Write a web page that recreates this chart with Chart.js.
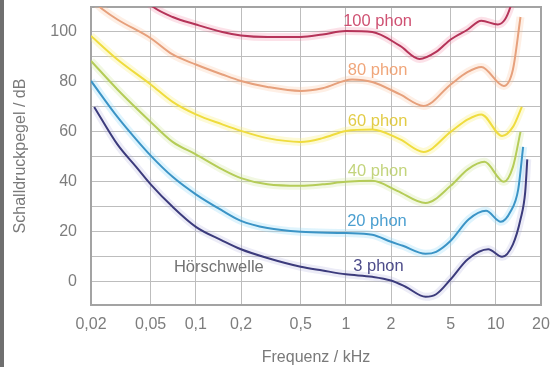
<!DOCTYPE html>
<html><head><meta charset="utf-8">
<script src="https://cdn.jsdelivr.net/npm/chart.js@4.4.1/dist/chart.umd.min.js"></script>
<style>
html,body{margin:0;padding:0;background:#fff;}
#wrap{position:relative;width:555px;height:367px;overflow:hidden;}
#strip{position:absolute;left:0;top:0;width:4px;height:367px;background:#6f6f6f;}
canvas{position:absolute;left:0;top:0;}
</style></head><body>
<div id="wrap"><canvas id="c" width="555" height="367"></canvas><div id="strip"></div></div>
<script>
// ---- tick labels ----
const xTickValues = [0.02, 0.05, 0.1, 0.2, 0.5, 1, 2, 5, 10, 20];
const xTickLabels = ['0,02', '0,05', '0,1', '0,2', '0,5', '1', '2', '5', '10', '20'];
const yGridValues = [0, 10, 20, 30, 40, 50, 60, 70, 80, 90, 100];
const yLabelValues = [0, 20, 40, 60, 80, 100];

// ---- curves (frequency kHz, sound pressure level dB) ----
const freq100 = [0.046, 0.052, 0.07, 0.1, 0.15, 0.2, 0.3, 0.5, 0.7, 1, 1.5, 2.3, 3.1, 4, 5, 6.5, 8, 10.3, 11.5, 12.5, 13];
const spl100  = [113, 110, 106, 103, 100, 98.6, 98, 98, 99, 100.4, 100, 94.4, 89.2, 92, 97, 101, 104.5, 103, 105, 110, 114];

const freq80 = [0.021, 0.024, 0.03, 0.05, 0.07, 0.1, 0.15, 0.2, 0.3, 0.5, 0.7, 1.1, 1.5, 2.3, 3.3, 5, 6.5, 8, 11.3, 13, 14.6];
const spl80  = [112, 109, 105, 97.5, 91, 87, 83, 80.4, 78, 76.4, 77.5, 81, 80, 75, 70.4, 79, 84, 86, 78.4, 85, 106];

const freq60 = [0.02, 0.03, 0.05, 0.07, 0.1, 0.15, 0.2, 0.3, 0.5, 0.7, 1, 1.5, 2.3, 3.3, 5, 6.5, 8, 11, 13, 14.9];
const spl60  = [98.4, 89, 79, 72, 67, 63, 60.4, 57.5, 56, 57.5, 60.4, 61, 57, 52, 60, 65, 67, 58.4, 62, 70];

const freq40 = [0.02, 0.03, 0.05, 0.07, 0.1, 0.15, 0.2, 0.3, 0.5, 0.7, 1, 1.5, 2.2, 3.4, 5, 6.5, 8.4, 11.3, 13, 14.6];
const spl40  = [88.4, 77, 64, 56, 51, 45, 41.5, 39, 38.4, 39, 40, 40.4, 36.4, 31.5, 38.4, 45, 48, 40, 46, 60];

const freq20 = [0.02, 0.03, 0.04, 0.05, 0.07, 0.1, 0.15, 0.2, 0.3, 0.5, 1, 1.5, 2, 2.4, 3.4, 4, 5, 6.6, 8.6, 10.8, 12.5, 14.1, 15.2];
const spl20  = [80.4, 66, 57, 50.5, 42, 35, 28.5, 24.4, 21.5, 20, 19.5, 18.8, 16, 14.4, 11.2, 12, 16.4, 25, 28.4, 24, 28, 37, 54];

const freq3 = [0.021, 0.03, 0.04, 0.05, 0.07, 0.1, 0.15, 0.2, 0.3, 0.5, 0.7, 1, 1.5, 2, 2.5, 3.4, 4, 5, 6.5, 8.9, 11, 13, 14.6, 15.7, 16.2];
const spl3  = [70, 55, 46, 39, 30, 22, 16.5, 13, 9.5, 6, 4.5, 3, 2, 0.5, -2, -6, -5, 1, 9, 13, 10, 15, 25, 36, 49];

const curves = [
  {name: '100 phon', f: freq100, v: spl100, color: '#b53459', halo: 'rgba(240,120,150,0.22)'},
  {name: '80 phon',  f: freq80,  v: spl80,  color: '#e6a07c', halo: 'rgba(250,190,150,0.25)'},
  {name: '60 phon',  f: freq60,  v: spl60,  color: '#efdc3e', halo: 'rgba(250,240,120,0.30)'},
  {name: '40 phon',  f: freq40,  v: spl40,  color: '#b5cc58', halo: 'rgba(210,230,150,0.28)'},
  {name: '20 phon',  f: freq20,  v: spl20,  color: '#3b94c6', halo: 'rgba(150,220,250,0.30)'},
  {name: '3 phon',   f: freq3,   v: spl3,   color: '#3c3b7c', halo: 'rgba(170,170,220,0.22)'}
];

// text annotations: [text, anchor frequency, anchor level, colour]
const annotations = [
  ['100 phon', 0.96, 104.4, '#cf5273'],
  ['80 phon', 1.03, 84.4, '#f0a67a'],
  ['60 phon', 1.03, 64, '#e2cc46'],
  ['40 phon', 1.03, 44, '#c3d47c'],
  ['20 phon', 1.02, 24, '#4b9fd0'],
  ['3 phon', 1.12, 6, '#4d4c8a'],
  ['Hörschwelle', 0.0714, 5.6, '#727272']
];

const FONT = "'Liberation Sans', Arial, sans-serif";
Chart.defaults.font.family = FONT;

const datasets = [];
curves.forEach(c => {
  const pts = c.f.map((f, i) => ({x: f, y: c.v[i]}));
  datasets.push({data: pts, borderColor: c.color, borderWidth: 2, pointRadius: 0,
    tension: 0.4, cubicInterpolationMode: 'monotone', fill: false, order: 0});
  datasets.push({data: pts, borderColor: c.halo, borderWidth: 8, pointRadius: 0,
    tension: 0.4, cubicInterpolationMode: 'monotone', fill: false, order: 1});
});

const framePlugin = {
  id: 'frame',
  beforeDatasetsDraw(chart) {
    const {ctx, chartArea: a} = chart;
    ctx.save();
    ctx.strokeStyle = '#a3a3a3';
    ctx.lineWidth = 2;
    ctx.strokeRect(a.left, a.top, a.right - a.left, a.bottom - a.top);
    ctx.restore();
  },
  afterDatasetsDraw(chart) {
    const {ctx} = chart;
    const xs = chart.scales.x, ys = chart.scales.y;
    ctx.save();
    ctx.font = "16.5px " + FONT;
    ctx.textAlign = 'left';
    ctx.textBaseline = 'middle';
    annotations.forEach(([t, f, v, col]) => {
      ctx.fillStyle = col;
      ctx.fillText(t, xs.getPixelForValue(f), ys.getPixelForValue(v));
    });
    ctx.restore();
  }
};

new Chart(document.getElementById('c'), {
  type: 'line',
  data: {datasets},
  options: {
    responsive: false,
    animation: false,
    events: [],
    layout: {padding: {left: 0, right: 14, top: 7, bottom: 0}},
    plugins: {legend: {display: false}, tooltip: {enabled: false}},
    scales: {
      x: {
        type: 'logarithmic', min: 0.02, max: 20,
        afterBuildTicks: s => { s.ticks = xTickValues.map(v => ({value: v})); },
        afterFit: s => { s.height = 62; s.paddingLeft = 0; s.paddingRight = 0; },
        grid: {color: '#bdbdbd', lineWidth: 1, drawTicks: false},
        border: {display: false},
        ticks: {
          autoSkip: false, maxRotation: 0, padding: 10, color: '#7d7d7d',
          font: {size: 16},
          callback: v => { const i = xTickValues.findIndex(t => Math.abs(t - v) < 1e-9); return i >= 0 ? xTickLabels[i] : ''; }
        },
        title: {display: true, text: 'Frequenz / kHz', color: '#7a7a7a', font: {size: 16}, padding: {top: 0, bottom: 0}}
      },
      y: {
        type: 'linear', min: -9.3, max: 110,
        afterBuildTicks: s => { s.ticks = yGridValues.map(v => ({value: v})); },
        afterFit: s => { s.width = 91; s.paddingTop = 0; s.paddingBottom = 0; },
        grid: {color: '#bdbdbd', lineWidth: 1, drawTicks: false},
        border: {display: false},
        ticks: {
          padding: 14, color: '#7d7d7d', font: {size: 16},
          callback: v => yLabelValues.includes(v) ? String(v) : ''
        },
        title: {display: true, text: 'Schalldruckpegel / dB', color: '#7a7a7a', font: {size: 16}, padding: {top: 11, bottom: 0}}
      }
    }
  },
  plugins: [framePlugin]
});
</script>
</body></html>
